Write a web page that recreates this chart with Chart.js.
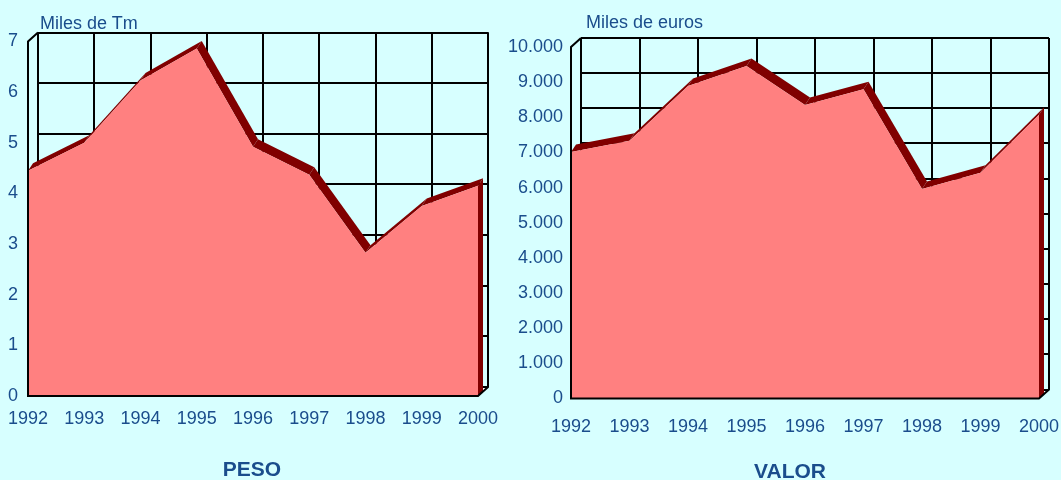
<!DOCTYPE html>
<html>
<head>
<meta charset="utf-8">
<script src="https://cdn.jsdelivr.net/npm/chart.js@4.4.1/dist/chart.umd.min.js"></script>
<style>
  html, body { margin: 0; padding: 0; background: #D7FFFF; }
  body { width: 1061px; height: 480px; position: relative; overflow: hidden;
         font-family: "Liberation Sans", Arial, sans-serif; color: #1a4d8c; }
  canvas { position: absolute; top: 0; }
  .unit { position: absolute; font-size: 18px; line-height: 1; white-space: nowrap; }
  .title { position: absolute; font-size: 21px; font-weight: bold; line-height: 1;
           white-space: nowrap; transform: translateX(-50%); }
</style>
</head>
<body>
<canvas id="pesoChart" width="500" height="480" style="left:0"></canvas>
<canvas id="valorChart" width="561" height="480" style="left:500px"></canvas>
<div class="unit" style="left:40px;top:13.5px">Miles de Tm</div>
<div class="unit" style="left:586px;top:12.5px">Miles de euros</div>
<div class="title" style="left:252px;top:457.5px">PESO</div>
<div class="title" style="left:790px;top:459.5px">VALOR</div>
<script>
// data
const years = ['1992', '1993', '1994', '1995', '1996', '1997', '1998', '1999', '2000'];
const pesoValues = [4.45, 5.0, 6.23, 6.86, 4.92, 4.37, 2.83, 3.75, 4.15];   // miles de Tm
const valorValues = [7010, 7330, 8890, 9460, 8350, 8800, 5960, 6420, 8070]; // miles de euros
const pesoMax = 7, pesoStep = 1;
const valorMax = 10000, valorStep = 1000;

const TEXT = '#1a4d8c';
const FILL = '#FF8080';
const DARK = '#800000';

Chart.defaults.font.family = '"Liberation Sans", Arial, sans-serif';
Chart.defaults.font.size = 18;
Chart.defaults.color = TEXT;

function thousands(v) {
    return String(v).replace(/\B(?=(\d{3})+(?!\d))/g, '.');
}

// back wall + floor of the 3D box, and the top/side faces of the area
const depthBox = {
    id: 'depthBox',
    beforeDatasetsDraw(chart) {
        const { ctx, chartArea: a, scales: { x, y } } = chart;
        const dx = 10, dy = -9;
        ctx.save();

        ctx.fillStyle = '#ffffff';
        ctx.beginPath();
        ctx.moveTo(a.left, a.bottom);
        ctx.lineTo(a.right, a.bottom);
        ctx.lineTo(a.right + dx, a.bottom + dy);
        ctx.lineTo(a.left + dx, a.bottom + dy);
        ctx.closePath();
        ctx.fill();

        ctx.strokeStyle = '#000';
        ctx.lineWidth = 2;
        ctx.beginPath();
        y.ticks.forEach(t => {
            const py = Math.round(y.getPixelForValue(t.value) + dy);
            ctx.moveTo(a.left + dx, py);
            ctx.lineTo(a.right + dx, py);
        });
        x.ticks.forEach((t, i) => {
            const px = Math.round(x.getPixelForTick(i) + dx);
            ctx.moveTo(px, a.top + dy);
            ctx.lineTo(px, a.bottom + dy);
        });
        ctx.stroke();

        // area thickness: about half of the box depth
        const sx = 5, sy = -7.5;
        const pts = chart.getDatasetMeta(0).data;
        ctx.fillStyle = DARK;
        for (let i = 0; i < pts.length - 1; i++) {
            const p = pts[i], q = pts[i + 1];
            ctx.beginPath();
            ctx.moveTo(p.x, p.y);
            ctx.lineTo(q.x, q.y);
            ctx.lineTo(q.x + sx, q.y + sy);
            ctx.lineTo(p.x + sx, p.y + sy);
            ctx.closePath();
            ctx.fill();
        }
        const last = pts[pts.length - 1];
        ctx.beginPath();
        ctx.moveTo(last.x, last.y);
        ctx.lineTo(last.x + sx, last.y + sy);
        ctx.lineTo(last.x + sx, a.bottom - 4);
        ctx.lineTo(last.x, a.bottom);
        ctx.closePath();
        ctx.fill();
        ctx.restore();
    },
    afterDatasetsDraw(chart) {
        const { ctx, chartArea: a } = chart;
        const dx = 10, dy = -9;
        ctx.save();
        ctx.strokeStyle = '#000';
        ctx.lineWidth = 2;
        ctx.beginPath();
        ctx.moveTo(a.left + dx, a.top + dy);
        ctx.lineTo(a.left, a.top);
        ctx.lineTo(a.left, a.bottom);
        ctx.lineTo(a.right, a.bottom);
        ctx.lineTo(a.right + dx, a.bottom + dy);
        ctx.lineTo(a.right + dx, a.top + dy);
        ctx.stroke();
        ctx.restore();
    }
};

function makeChart(id, values, max, step, box) {
    new Chart(document.getElementById(id), {
        type: 'line',
        data: {
            labels: years,
            datasets: [{
                data: values,
                fill: 'origin',
                backgroundColor: FILL,
                borderColor: 'rgba(0,0,0,0)',
                borderWidth: 0,
                pointRadius: 0,
                tension: 0
            }]
        },
        options: {
            responsive: false,
            animation: false,
            layout: { padding: { left: 0, top: box.top, right: box.right, bottom: 0 } },
            plugins: { legend: { display: false }, tooltip: { enabled: false } },
            scales: {
                x: {
                    grid: { display: false, drawTicks: false },
                    border: { display: false },
                    ticks: { maxRotation: 0, autoSkip: false, padding: box.xPad },
                    afterFit: s => { s.height = box.xHeight; s.paddingLeft = 0; s.paddingRight = 0; }
                },
                y: {
                    min: 0,
                    max: max,
                    grid: { display: false, drawTicks: false },
                    border: { display: false },
                    ticks: { stepSize: step, padding: box.yPad, callback: v => thousands(v) },
                    afterFit: s => { s.width = box.yWidth; s.paddingTop = 0; s.paddingBottom = 0; }
                }
            }
        },
        plugins: [depthBox]
    });
}

makeChart('pesoChart', pesoValues, pesoMax, pesoStep,
    { top: 41.5, right: 22, xHeight: 84, yWidth: 28, xPad: 12, yPad: 10 });
makeChart('valorChart', valorValues, valorMax, valorStep,
    { top: 47, right: 22, xHeight: 81.5, yWidth: 71, xPad: 18, yPad: 8 });
</script>
</body>
</html>
